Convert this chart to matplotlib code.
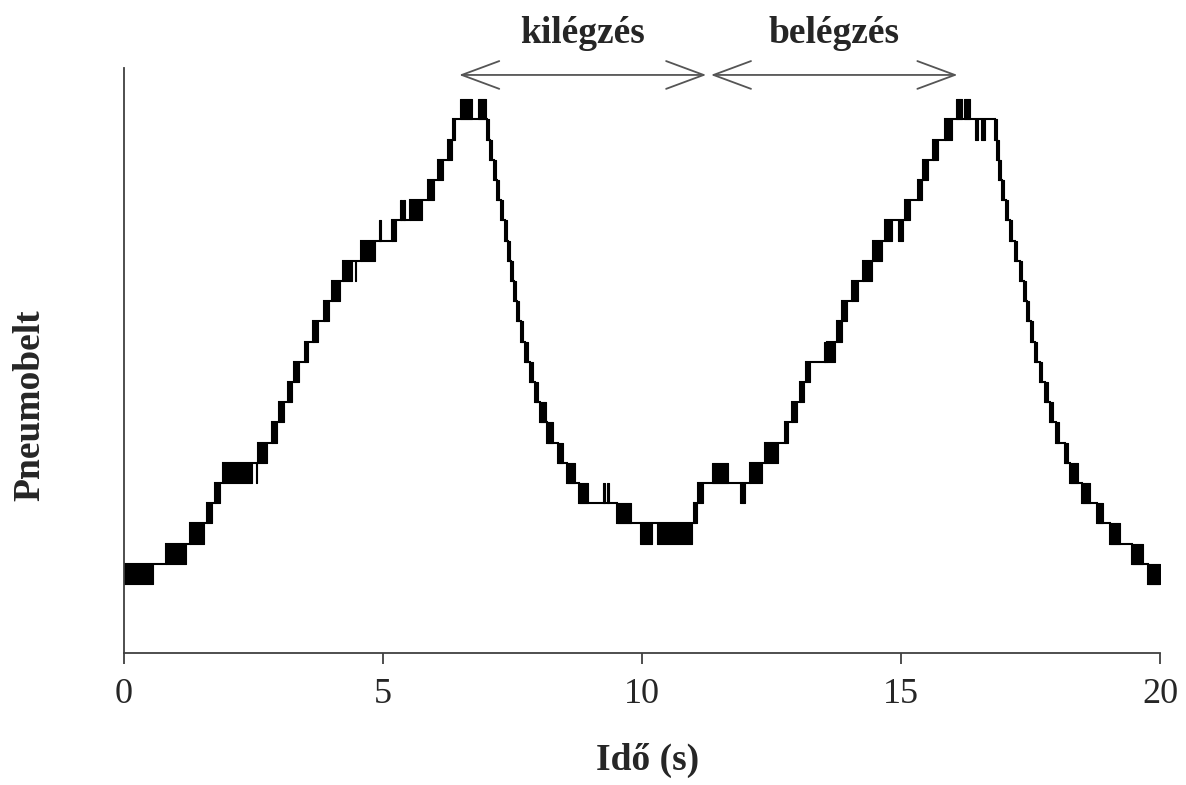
import matplotlib
matplotlib.use("Agg")
import matplotlib.pyplot as plt
import numpy as np

# ---------------- data ----------------
# time axis (s), signal in quantised pneumobelt levels (arbitrary units)
x_ticks = [0, 5, 10, 15, 20]
x_label = "Idő (s)"
y_label = "Pneumobelt"
start_level = 0
end_time = 20.0

# level transitions: toggling interval start, end, level afterwards
trans_t0 = [0.00, 0.81, 1.27, 1.60, 1.76, 1.91, 2.59, 2.86, 2.99, 3.17, 3.28, 3.49,
            3.65, 3.86, 4.02, 4.23, 4.58, 5.17, 5.52, 5.87, 6.06, 6.25, 6.35,
            7.00, 7.06, 7.14, 7.20, 7.28, 7.35, 7.41, 7.47, 7.53, 7.59, 7.66, 7.74,
            7.84, 7.94, 8.03, 8.17, 8.38, 8.55, 8.78, 9.52,
            11.00, 11.08, 12.08, 12.37, 12.76, 12.90, 13.05, 13.16, 13.57, 13.76,
            13.87, 14.05, 14.27, 14.46, 14.69, 15.08, 15.33, 15.43, 15.62, 15.85,
            16.81, 16.85, 16.89, 16.95, 17.03, 17.10, 17.20, 17.30, 17.37, 17.43,
            17.51, 17.59, 17.68, 17.78, 17.88, 17.99, 18.16, 18.26, 18.49, 18.78,
            19.03, 19.46, 19.77]
trans_t1 = [0.56, 1.20, 1.54, 1.70, 1.85, 2.47, 2.76, 2.95, 3.09, 3.24, 3.38, 3.55,
            3.75, 3.96, 4.17, 4.40, 4.85, 5.25, 5.75, 5.98, 6.16, 6.33, 6.39,
            7.04, 7.10, 7.18, 7.24, 7.32, 7.39, 7.45, 7.51, 7.57, 7.63, 7.70, 7.79,
            7.89, 8.00, 8.15, 8.28, 8.47, 8.71, 8.96, 9.79,
            11.06, 11.18, 12.32, 12.63, 12.82, 12.99, 13.12, 13.24, 13.73, 13.86,
            13.96, 14.17, 14.44, 14.63, 14.83, 15.17, 15.41, 15.52, 15.71, 15.98,
            16.85, 16.89, 16.93, 16.99, 17.07, 17.14, 17.24, 17.34, 17.41, 17.47,
            17.55, 17.63, 17.73, 17.83, 17.93, 18.05, 18.22, 18.42, 18.65, 18.90,
            19.23, 19.67, 20.00]
trans_level = [1, 2, 3, 4, 5, 6, 7, 8, 9, 10, 11, 12,
               13, 14, 15, 16, 17, 18, 19, 20, 21, 22, 23,
               22, 21, 20, 19, 18, 17, 16, 15, 14, 13, 12, 11,
               10, 9, 8, 7, 6, 5, 4, 3,
               4, 5, 6, 7, 8, 9, 10, 11, 12, 13,
               14, 15, 16, 17, 18, 19, 20, 21, 22, 23,
               22, 21, 20, 19, 18, 17, 16, 15, 14, 13,
               12, 11, 10, 9, 8, 7, 6, 5, 4, 3,
               2, 1, 0]

# short excursions / toggling that return to the same level
blip_t0 = [2.54, 4.45, 4.93, 5.33, 5.39, 6.49, 6.83, 9.25, 9.33, 9.96, 10.29,
           11.35, 11.89, 13.52, 14.94, 16.06, 16.22, 16.43, 16.54]
blip_t1 = [2.57, 4.48, 4.96, 5.36, 5.42, 6.72, 6.99, 9.28, 9.37, 10.19, 10.97,
           11.66, 11.99, 13.55, 15.04, 16.18, 16.33, 16.48, 16.62]
blip_lo = [5, 15, 17, 18, 18, 23, 23, 4, 4, 2, 2,
           5, 4, 11, 17, 23, 23, 22, 22]
blip_hi = [6, 16, 18, 19, 19, 24, 24, 5, 5, 3, 3,
           6, 5, 12, 18, 24, 24, 23, 23]

# phase annotations
phase_names = ["kilégzés", "belégzés"]
phase_start = [6.47, 11.33]
phase_end = [11.24, 16.09]

# ---------------- plotting ----------------
SERIF = ["Liberation Serif", "DejaVu Serif"]
TXT = "#262626"
AX = "#404040"

fig = plt.figure(figsize=(11.86, 7.85), dpi=100)
ax = fig.add_axes([124 / 1186, 1 - 653 / 785, (1160 - 124) / 1186, (653 - 68) / 785])

# staircase line
t_line = [0.0]
v_line = [start_level]
for t0, lv in zip(trans_t0, trans_level):
    t_line.append(t0)
    v_line.append(lv)
t_line.append(end_time)
v_line.append(trans_level[-1])
ax.step(t_line, v_line, where="post", color="black", lw=1.5, solid_joinstyle="miter")

# toggling bands at transitions
prev = start_level
for t0, t1, lv in zip(trans_t0, trans_t1, trans_level):
    lo, hi = min(prev, lv), max(prev, lv)
    ax.fill_between([t0, t1], [lo, lo], [hi, hi], color="black", lw=0.8, edgecolor="black")
    prev = lv

# excursions
for t0, t1, lo, hi in zip(blip_t0, blip_t1, blip_lo, blip_hi):
    ax.fill_between([t0, t1], [lo, lo], [hi, hi], color="black", lw=0.8, edgecolor="black")

# phase arrows and labels
arrow_y = 25.2
label_y = 27.25
for name, a, b in zip(phase_names, phase_start, phase_end):
    ax.annotate("", xy=(b, arrow_y), xytext=(a, arrow_y),
                arrowprops=dict(arrowstyle="<->,head_length=2.7,head_width=1.0",
                                color="#555555", lw=1.3, shrinkA=0, shrinkB=0,
                                mutation_scale=10),
                annotation_clip=False)
    ax.text((a + b) / 2, label_y, name, ha="center", va="center",
            fontsize=27, fontweight="bold", family=SERIF, color=TXT, clip_on=False)

ax.set_xlim(0, 20)
ax.set_ylim((584 - 653) / 20.2, (584 - 68) / 20.2)
ax.set_xticks(x_ticks)
ax.set_xticklabels([str(v) for v in x_ticks], family=SERIF, fontsize=26, color=TXT)
ax.set_yticks([])
ax.tick_params(axis="x", direction="out", length=8, width=1.3, color=AX, pad=10)
for s in ["top", "right"]:
    ax.spines[s].set_visible(False)
for s in ["left", "bottom"]:
    ax.spines[s].set_color(AX)
    ax.spines[s].set_linewidth(1.3)

ax.set_xlabel(x_label, family=SERIF, fontsize=27, fontweight="bold", color=TXT)
ax.xaxis.set_label_coords((648 - 124) / 1036, (653 - 760) / 585)
ax.set_ylabel(y_label, family=SERIF, fontsize=27, fontweight="bold", color=TXT)
ax.yaxis.set_label_coords((30 - 124) / 1036, (653 - 405) / 585)
ax.xaxis.label.set_va("center")
ax.yaxis.label.set_va("center")

fig.savefig("out.png", dpi=100)
